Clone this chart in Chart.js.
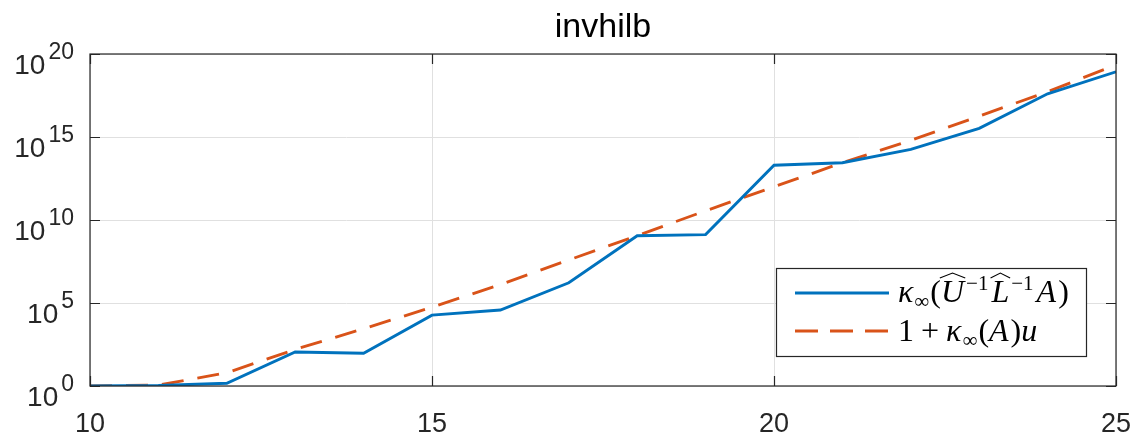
<!DOCTYPE html>
<html>
<head>
<meta charset="utf-8">
<script src="https://cdn.jsdelivr.net/npm/chart.js@4.4.1/dist/chart.umd.min.js"></script>
<style>
  html, body { margin: 0; padding: 0; background: #ffffff; }
  #c { display: block; }
</style>
</head>
<body>
<canvas id="c" width="1136" height="434"></canvas>
<script>
// Matrix dimension n for invhilb(n)
const sizes = [10, 11, 12, 13, 14, 15, 16, 17, 18, 19, 20, 21, 22, 23, 24, 25];

// kappa_inf(U^-1 L^-1 A)
const preconditionedCond = [1.0, 1.07, 1.45, 112, 93, 1.86e4, 3.8e4, 1.66e6, 1.12e9, 1.32e9,
                            2.0e13, 2.8e13, 1.8e14, 3.3e15, 4.0e17, 8.5e18];

// 1 + kappa_inf(A) u
const boundCond = [1.0, 1.13, 6.3, 1.6e2, 2.8e3, 5.6e4, 1.3e6, 3.9e7, 1.15e9, 3.6e10,
                   1.0e12, 2.8e13, 6.3e14, 1.8e16, 5.4e17, 2.2e19];

const xTickValues = [10, 15, 20, 25];
const yTickExponents = [0, 5, 10, 15, 20];
const titleText = 'invhilb';

const BLUE = '#0072BD';
const ORANGE = '#D95319';
const AXIS = '#262626';
const GRID = '#e0e0e0';
const SANS = '"Liberation Sans", Arial, Helvetica, sans-serif';
const SERIF = '"Liberation Serif", "DejaVu Serif", serif';
const LINE_W = 2.9;

// Draws a run of math-like text pieces left to right; returns end x.
function drawPieces(ctx, x, baseline, pieces) {
  for (const p of pieces) {
    ctx.font = p.font;
    const w = ctx.measureText(p.t).width;
    const y = baseline + (p.dy || 0);
    ctx.fillText(p.t, x, y);
    if (p.hat) {
      // wide hat accent above the letter
      const cx = x + w / 2 + (p.hatShift || 0);
      const top = y - p.hat;
      ctx.beginPath();
      ctx.moveTo(cx - w * 0.55, top + 5);
      ctx.lineTo(cx, top);
      ctx.lineTo(cx + w * 0.55, top + 5);
      ctx.lineWidth = 1.1;
      ctx.strokeStyle = '#000000';
      ctx.stroke();
    }
    x += w + (p.after || 0);
  }
  return x;
}

const framePlugin = {
  id: 'matlabFrame',
  afterDatasetsDraw(chart) {
    const ctx = chart.ctx;
    const a = chart.chartArea;
    const xs = chart.scales.x, ys = chart.scales.y;
    ctx.save();

    // box and inward tick marks
    ctx.strokeStyle = AXIS;
    ctx.lineWidth = 1.2;
    ctx.strokeRect(a.left, a.top, a.right - a.left, a.bottom - a.top);
    const tl = 10;
    ctx.beginPath();
    for (const v of xTickValues) {
      const px = Math.round(xs.getPixelForValue(v)) + 0.5;
      ctx.moveTo(px, a.bottom); ctx.lineTo(px, a.bottom - tl);
      ctx.moveTo(px, a.top); ctx.lineTo(px, a.top + tl);
    }
    for (const e of yTickExponents) {
      const py = Math.round(ys.getPixelForValue(Math.pow(10, e))) + 0.5;
      ctx.moveTo(a.left, py); ctx.lineTo(a.left + tl, py);
      ctx.moveTo(a.right, py); ctx.lineTo(a.right - tl, py);
    }
    ctx.stroke();

    // tick labels
    ctx.fillStyle = AXIS;
    ctx.textBaseline = 'alphabetic';
    ctx.font = '27px ' + SANS;
    ctx.textAlign = 'center';
    for (const v of xTickValues) {
      ctx.fillText(String(v), xs.getPixelForValue(v), a.bottom + 46);
    }
    for (const e of yTickExponents) {
      const py = ys.getPixelForValue(Math.pow(10, e));
      const sup = String(e);
      ctx.font = '23px ' + SANS;
      const ws = ctx.measureText(sup).width;
      ctx.textAlign = 'left';
      const right = a.left - 16;
      ctx.fillText(sup, right - ws, py + 5);
      ctx.font = '28px ' + SANS;
      ctx.textAlign = 'right';
      ctx.fillText('10', right - ws - 3, py + 20);
    }

    // title
    ctx.font = '34px ' + SANS;
    ctx.textAlign = 'center';
    ctx.fillStyle = '#000000';
    ctx.fillText(titleText, (a.left + a.right) / 2, 37);

    // legend
    const lx = 776, ly = 268, lw = 310, lh = 88;
    ctx.fillStyle = '#ffffff';
    ctx.fillRect(lx, ly, lw, lh);
    ctx.strokeStyle = AXIS;
    ctx.lineWidth = 1.2;
    ctx.strokeRect(lx + 0.5, ly + 0.5, lw, lh);

    ctx.lineWidth = LINE_W;
    ctx.strokeStyle = BLUE;
    ctx.setLineDash([]);
    ctx.beginPath(); ctx.moveTo(795, 293); ctx.lineTo(889, 293); ctx.stroke();
    ctx.strokeStyle = ORANGE;
    ctx.setLineDash([23, 12]);
    ctx.beginPath(); ctx.moveTo(795, 331); ctx.lineTo(889, 331); ctx.stroke();
    ctx.setLineDash([]);

    ctx.fillStyle = '#000000';
    ctx.textAlign = 'left';
    const big = '32px ' + SERIF, bigI = 'italic 32px ' + SERIF;
    const small = '21px ' + SERIF;
    drawPieces(ctx, 898, 302, [
      { t: 'κ', font: bigI, after: 1 },
      { t: '∞', font: small, dy: 6, after: 1 },
      { t: '(', font: big },
      { t: 'U', font: bigI, hat: 29, after: 2 },
      { t: '−1', font: small, dy: -12, after: 3 },
      { t: 'L', font: bigI, hat: 29, after: 2 },
      { t: '−1', font: small, dy: -12, after: 3 },
      { t: 'A', font: bigI, after: 2 },
      { t: ')', font: big }
    ]);
    drawPieces(ctx, 898, 341, [
      { t: '1', font: big, after: 7 },
      { t: '+', font: big, after: 7 },
      { t: 'κ', font: bigI, after: 1 },
      { t: '∞', font: small, dy: 6, after: 1 },
      { t: '(', font: big },
      { t: 'A', font: bigI, after: 2 },
      { t: ')', font: big },
      { t: 'u', font: bigI }
    ]);
    ctx.restore();
  }
};

const toPoints = ys => sizes.map((n, i) => ({ x: n, y: ys[i] }));

new Chart(document.getElementById('c'), {
  type: 'line',
  data: {
    datasets: [
      {
        label: 'κ∞(Û⁻¹L̂⁻¹A)',
        data: toPoints(preconditionedCond),
        borderColor: BLUE,
        borderWidth: LINE_W,
        pointRadius: 0,
        tension: 0,
        fill: false
      },
      {
        label: '1 + κ∞(A)u',
        data: toPoints(boundCond),
        borderColor: ORANGE,
        borderWidth: LINE_W,
        borderDash: [22, 14],
        pointRadius: 0,
        tension: 0,
        fill: false
      }
    ]
  },
  options: {
    responsive: false,
    animation: false,
    devicePixelRatio: 1,
    layout: { padding: { left: 90, right: 20, top: 54, bottom: 48 } },
    plugins: {
      legend: { display: false },
      tooltip: { enabled: false },
      title: { display: false }
    },
    scales: {
      x: {
        type: 'linear',
        min: 10,
        max: 25,
        afterBuildTicks: s => { s.ticks = xTickValues.map(v => ({ value: v })); },
        afterFit: s => { s.height = 0; },
        ticks: { display: false },
        grid: { color: GRID, lineWidth: 1, drawTicks: false },
        border: { display: false }
      },
      y: {
        type: 'logarithmic',
        min: 1,
        max: 1e20,
        afterBuildTicks: s => { s.ticks = yTickExponents.map(e => ({ value: Math.pow(10, e) })); },
        afterFit: s => { s.width = 0; },
        ticks: { display: false },
        grid: { color: GRID, lineWidth: 1, drawTicks: false },
        border: { display: false }
      }
    }
  },
  plugins: [framePlugin]
});
</script>
</body>
</html>
